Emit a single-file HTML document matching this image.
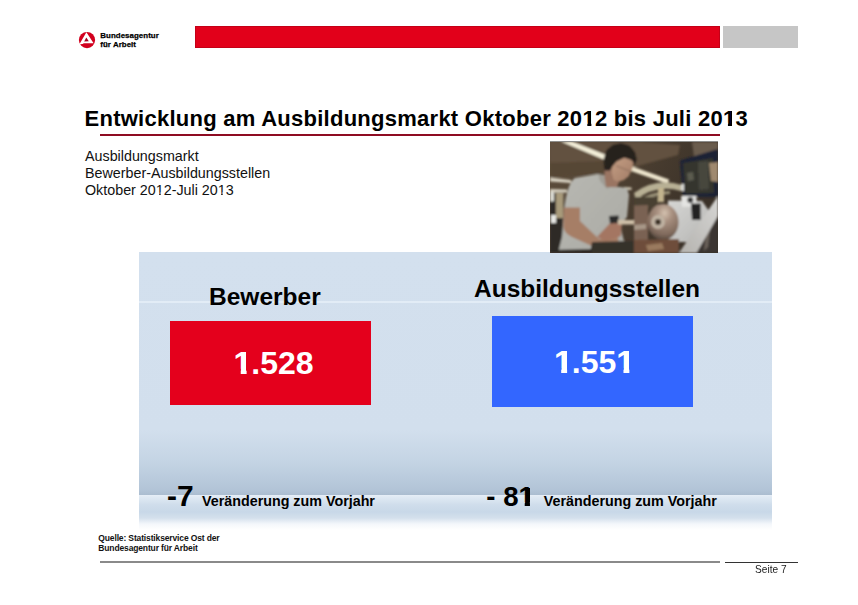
<!DOCTYPE html>
<html><head><meta charset="utf-8">
<style>
html,body{margin:0;padding:0;background:#fff;}
body{width:858px;height:605px;position:relative;overflow:hidden;font-family:"Liberation Sans",sans-serif;color:#000;}
.a{position:absolute;white-space:nowrap;}
#redbar{left:194.5px;top:26.2px;width:525.5px;height:22.3px;background:#E2001A;box-shadow:inset 0 0 0 1px rgba(160,0,20,0.45);}
#graybar{left:723px;top:26.2px;width:75px;height:22.3px;background:#C6C6C6;}
#logo{left:77px;top:30px;width:22px;height:21px;}
#logotxt{left:100.3px;top:32.3px;font-size:7.9px;font-weight:bold;line-height:8.6px;letter-spacing:0.05px;-webkit-text-stroke:0.25px #000;}
#title{left:84.5px;top:105.5px;font-size:22px;font-weight:bold;letter-spacing:0.26px;line-height:26px;}
#uline{left:100px;top:134px;width:620px;height:2px;background:#8E0C22;}
#sub{left:85px;top:147.5px;font-size:14.3px;line-height:17px;color:#111;}
#photo{left:550px;top:141px;width:168px;height:112px;background:#5a5045;z-index:2;}
#panel{left:139px;top:252px;width:633px;height:278px;
 background:linear-gradient(to bottom,#D3E0EE 0px,#D2DFED 178px,#C4D4E4 210px,#B2C4D7 238px,#ABBDD0 242.8px,#E6EEF7 243.2px,#E0EAF4 245px,#CFDDEB 253px,#C8D8E8 260px,#D4E0EC 266px,#F4F7FB 272px,#FFFFFF 278px);}
#pline{left:139px;top:301px;width:633px;height:2px;background:#E2ECF6;}
.h{font-size:24.5px;font-weight:bold;line-height:30px;}
.box{position:absolute;color:#fff;font-weight:bold;font-size:32px;}
#rbox{left:169.5px;top:321px;width:201.5px;height:83.5px;background:#E4001C;}
#bbox{left:492px;top:316px;width:201px;height:90.5px;background:#3366FF;}
.num{font-size:29px;font-weight:bold;line-height:34px;}
.ver{font-size:14.3px;font-weight:bold;line-height:18px;}
#quelle{left:98.3px;top:534px;font-size:8.5px;font-weight:bold;line-height:9.8px;letter-spacing:-0.14px;color:#111;}
#bline1{left:100px;top:561px;width:620px;height:2px;background:#8A8A8A;}
#bline2{left:725px;top:562px;width:73px;height:1px;background:#333;}
#seite{left:754.7px;top:563.4px;font-size:11px;line-height:13px;transform:scaleX(0.92);transform-origin:0 0;color:#222;}
.one{display:inline-block;position:relative;line-height:1;clip-path:polygon(0 0,100% 0,100% 0.69em,0.41em 0.69em,0.41em 100%,0.225em 100%,0.225em 0.69em,0 0.69em);}
.one::after{content:"";position:absolute;left:0.355em;width:0.045em;top:0.165em;bottom:0.175em;background:currentColor;}
.oner{display:inline-block;line-height:1;clip-path:polygon(0 0,100% 0,100% 0.69em,0.345em 0.69em,0.345em 100%,0.24em 100%,0.24em 0.69em,0 0.69em);}
</style></head><body>
<div class="a" id="redbar"></div>
<div class="a" id="graybar"></div>
<svg class="a" id="logo" viewBox="0 0 22 21">
 <circle cx="10" cy="10.1" r="8.1" fill="#D2001E"/>
 <path d="M9.4 2.2 L16.6 13.2 L6.8 13.3 L5.6 13.9 L2.4 14.2 Z" fill="#fff"/>
 <path d="M9.3 7.6 L11.8 11.3 L7.2 11.5 Z" fill="#A8001E"/>
</svg>
<div class="a" id="logotxt">Bundesagentur<br>für Arbeit</div>
<div class="a" id="title">Entwicklung am Ausbildungsmarkt Oktober 20<span class="one">1</span>2 bis Juli 20<span class="one">1</span>3</div>
<div class="a" id="uline"></div>
<div class="a" id="sub">Ausbildungsmarkt<br>Bewerber-Ausbildungsstellen<br>Oktober 20<span class="oner">1</span>2-Juli 20<span class="oner">1</span>3</div>
<svg class="a" id="photo" viewBox="0 0 168 112" preserveAspectRatio="none">
<defs>
<filter id="bl" x="-5%" y="-5%" width="110%" height="110%"><feGaussianBlur stdDeviation="1"/></filter>
<radialGradient id="chuck" cx="0.55" cy="0.25" r="0.8"><stop offset="0" stop-color="#d4c2b0"/><stop offset="0.3" stop-color="#a89080"/><stop offset="0.75" stop-color="#806a5c"/><stop offset="1" stop-color="#4a3e36"/></radialGradient>
<linearGradient id="bg" x1="0" y1="0" x2="1" y2="0.3"><stop offset="0" stop-color="#5f4f3d"/><stop offset="0.5" stop-color="#4c3f31"/><stop offset="1" stop-color="#3a3128"/></linearGradient>
<linearGradient id="shirt" x1="0" y1="0" x2="1" y2="1"><stop offset="0" stop-color="#b8b8b2"/><stop offset="1" stop-color="#aaaaa4"/></linearGradient>
<linearGradient id="mach" x1="0" y1="0" x2="1" y2="1"><stop offset="0" stop-color="#d6d6d4"/><stop offset="1" stop-color="#b6b6b4"/></linearGradient>
<linearGradient id="bar" x1="1" y1="0" x2="0" y2="1"><stop offset="0" stop-color="#d6d6d4"/><stop offset="1" stop-color="#b4b2ae"/></linearGradient>
<linearGradient id="face" x1="0" y1="0" x2="1" y2="1"><stop offset="0" stop-color="#c49e84"/><stop offset="1" stop-color="#a27c66"/></linearGradient>
</defs>
<rect x="0" y="0" width="168" height="112" fill="url(#bg)"/>
<g filter="url(#bl)">
<!-- ceiling -->
<path d="M0 1 L90 1 L130 4 L128 14 L84 26 L56 18 L40 30 L0 34 Z" fill="#62513f"/>
<path d="M0 22 L52 20 L54 32 L0 36 Z" fill="#574634"/>
<path d="M142 1 L168 1 L168 14 L144 16 Z" fill="#6a5c4e"/>
<!-- light streaks -->
<path d="M11 0.5 L22 0.5 L56 14 L55 19 Z" fill="#f4f0da"/>
<path d="M81 25 L119 38.5 L118 43 L81 30 Z" fill="#ece4cc"/>
<path d="M0 36.5 L21 39 L21 42 L0 40.5 Z" fill="#d8d2c2"/>
<path d="M0 48 L17 48.5 L17 51.5 L0 51.5 Z" fill="#d6d0c0"/>
<path d="M74 46 L81.5 46.5 L81.5 49 L74 48.5 Z" fill="#d0c8b4"/>
<!-- monitor -->
<path d="M130 19.5 L166 8.5 L168 8.5 L168 56 L133 56 Z" fill="#1c2236"/>
<path d="M133 22 L163 17 L164 52 L135 53 Z" fill="#34362f"/>
<path d="M148 21 L158 20 L159 48 L149 49 Z" fill="#46463c"/>
<path d="M137 32 L143 31 L144 39 L138 40 Z" fill="#5c5c50"/>
<path d="M159 22 L168 21 L168 41 L161 40 Z" fill="#a08a70"/>
<!-- tube arc -->
<path d="M84 52 Q106 36 132 44 L131 50 Q106 43 86 59 Z" fill="#b8b094"/>
<path d="M84 62 Q100 50 120 50 L120 53 Q100 54 86 64 Z" fill="#9a9278"/>
<path d="M108 47 L114 47 L114 61 L108 61 Z" fill="#c2b48e"/>
<path d="M131 43 L134 43 L134 50 L131 50 Z" fill="#d8d8d4"/>
<!-- left column -->
<path d="M0 52 L14 52 L14 112 L0 112 Z" fill="#2e2c28"/>
<path d="M6 52 L13.5 52 L13 77 L6 77 Z" fill="#a89a7a"/>
<path d="M0 51 L4 51 L4 60.5 L0 60.5 Z" fill="#dcdcd4"/>
<path d="M1 74 L6 74 L6 82 L1 82 Z" fill="#e8e8e4"/>
<!-- shirt -->
<path d="M8 112 L12 96 L14 70 Q17 42 25 37 L48 33 L56 36 L62 46 L70 46 L77 47 L79 54 L77 76 L70 84 L74 100 L44 104 L40 112 Z" fill="url(#shirt)"/>
<path d="M48 33 L55 34 L61 46 L57 48 L50 40 Z" fill="#a09e96"/>
<!-- neck -->
<path d="M54.5 27.8 L62 28 L69.3 40 L67 46.3 L56 46 L54.5 36 Z" fill="#9a7462"/>
<!-- face -->
<path d="M61 18.5 L75.8 16.7 L83.2 20.4 L82.3 27.8 L78.6 35.2 L74 38.9 L68.4 40.7 L63.7 38.9 L61.9 32.4 Z" fill="url(#face)"/>
<ellipse cx="58.6" cy="22.7" rx="2.4" ry="4" fill="#b08a72"/>
<!-- hair -->
<path d="M54.5 29.6 L53.6 18.5 L56.3 9.3 L62.8 3.7 L71.1 1.9 L79.5 4.6 L85 11.1 L86.9 18.5 L85 24 L81.3 18.5 L74 16.7 L66.5 20.4 L61.9 26 L60 29.6 Z" fill="#27211b"/>
<!-- glasses -->
<path d="M66.5 24 L81.5 30 L81 31.5 L66 25.5 Z" fill="#8a6c5a" opacity="0.6"/>
<!-- arms -->
<path d="M13.5 66.5 L30 66.5 L30 80 L49 98 L68 96 L69 105 L42 105 L22 96 Q14 92 13.5 86 Z" fill="#a67e66"/>
<path d="M47 96 L62 80 L72 82 L71 95 L56 100 Z" fill="#a47662"/>
<path d="M59 75 L68.7 74.5 L68.7 82 L60 82.5 Z" fill="#2c2c2c"/>
<path d="M67.7 79 L84 79 L84 83.4 L68 83.4 Z" fill="#cfc0a8"/>
<!-- lathe left dark/bronze -->
<path d="M84 56 L108 56 L108 66 L96 68 L84 66 Z" fill="#4a4030"/>
<path d="M84 64.6 L98 64 L98 99 L84 99 Z" fill="#7a6252"/>
<path d="M84 84 L96 83 L96 88 L84 89 Z" fill="#a89888"/>
<!-- machine white body -->
<path d="M118 59.4 L152 60 L159 70 L156 101 L118 101 Z" fill="url(#mach)"/>
<path d="M131 55 L146.5 55 L146.5 65.7 L132 65.7 Z" fill="#e4e4e2"/>
<circle cx="140.3" cy="58.9" r="3" fill="#363636"/>
<path d="M141 62.5 L150.7 62.5 L150.7 79 L142 79 Z" fill="#222"/>
<!-- right dark -->
<path d="M157 80 L168 72 L168 112 L146 112 Z" fill="#3a3430"/>
<path d="M156 92 L160 88 L158 106 L154 110 Z" fill="#6a625a"/>
<!-- diagonal bar -->
<path d="M168 55 L168 75 L146.5 112 L128.8 112 Z" fill="url(#bar)"/>
<!-- chuck -->
<ellipse cx="113" cy="81" rx="15.6" ry="18" fill="url(#chuck)"/>
<circle cx="108" cy="81" r="7" fill="#bfb2a2"/>
<circle cx="108" cy="81" r="3" fill="#3a3028"/>
<!-- bronze bottom -->
<path d="M42 101 L84 100 L84 112 L40 112 Z" fill="#36302a"/>
<path d="M84 99 L129 98 L128.8 112 L84 112 Z" fill="#6e4e3a"/>
<path d="M96 104 L112 102 L114 108 L98 110 Z" fill="#9a7a5e"/>
<path d="M0 109 L42 108 L42 112 L0 112 Z" fill="#2c2824"/>
</g>
<rect x="0" y="0" width="168" height="1" fill="#8e8e8c"/>
</svg>
<div class="a" id="panel"></div>
<div class="a" id="pline"></div>
<div class="a h" style="left:209px;top:282px;">Bewerber</div>
<div class="a h" style="left:474px;top:274px;">Ausbildungsstellen</div>
<div class="a" id="rbox"></div>
<div class="a" id="bbox"></div>
<div class="a box" style="left:233.5px;top:344.7px;"><span class="one">1</span>.528</div>
<div class="a box" style="left:554px;top:344px;"><span class="one">1</span>.55<span class="one">1</span></div>
<div class="a num" style="left:167px;top:478.5px;font-size:30px;">-7</div>
<div class="a ver" style="left:202px;top:492.2px;">Veränderung zum Vorjahr</div>
<div class="a num" style="left:486.3px;top:480.2px;font-size:27.6px;">- 8<span class="one">1</span></div>
<div class="a ver" style="left:543.8px;top:492px;">Veränderung zum Vorjahr</div>
<div class="a" id="quelle">Quelle: Statistikservice Ost der<br>Bundesagentur für Arbeit</div>
<div class="a" id="bline1"></div>
<div class="a" id="bline2"></div>
<div class="a" id="seite">Seite 7</div>
</body></html>
